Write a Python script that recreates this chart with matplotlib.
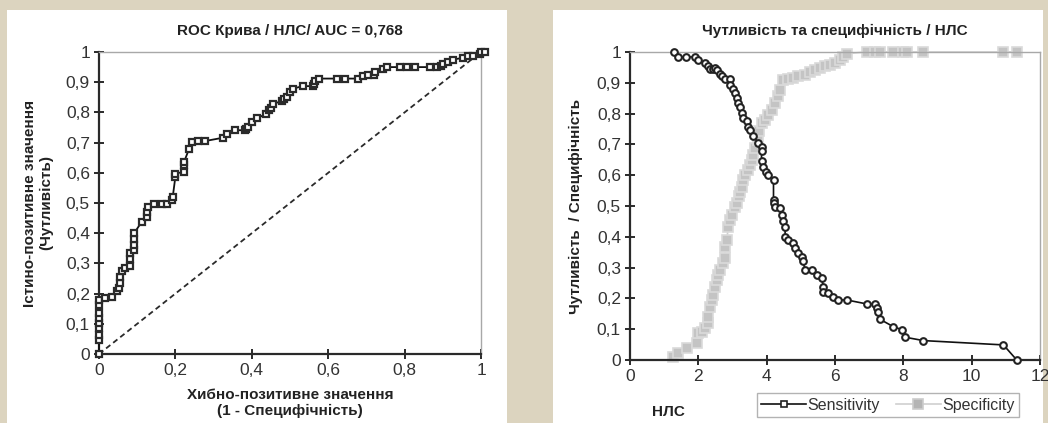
import numpy as np
import matplotlib
matplotlib.use("Agg")
import matplotlib.pyplot as plt
from matplotlib.patches import Rectangle
from matplotlib.lines import Line2D
from matplotlib.ticker import FuncFormatter, MultipleLocator

plt.rcParams['font.family'] = ['Liberation Sans', 'DejaVu Sans']

# ROC curve: false positive rate vs true positive rate
fpr = [0, 0, 0, 0, 0, 0, 0, 0, 0, 0.016, 0.035, 0.046, 0.053, 0.056, 0.056, 0.06, 0.068,
       0.08, 0.08, 0.08, 0.092, 0.092, 0.092, 0.092, 0.112, 0.125, 0.125, 0.127, 0.144,
       0.166, 0.177, 0.19, 0.193, 0.2, 0.2, 0.223, 0.223, 0.223, 0.236, 0.243, 0.258,
       0.277, 0.324, 0.336, 0.356, 0.382, 0.386, 0.391, 0.4, 0.413, 0.436, 0.446, 0.45,
       0.455, 0.478, 0.485, 0.491, 0.5, 0.509, 0.533, 0.561, 0.563, 0.565, 0.577, 0.622,
       0.644, 0.679, 0.69, 0.705, 0.72, 0.723, 0.744, 0.753, 0.788, 0.805, 0.827, 0.866,
       0.884, 0.895, 0.9, 0.913, 0.927, 0.954, 0.967, 0.98, 0.997, 1.0, 1.01]
tpr = [0, 0.047, 0.064, 0.085, 0.102, 0.12, 0.135, 0.163, 0.18, 0.187, 0.19, 0.207, 0.218,
       0.235, 0.255, 0.275, 0.285, 0.29, 0.315, 0.334, 0.345, 0.36, 0.38, 0.4, 0.438,
       0.455, 0.47, 0.488, 0.497, 0.497, 0.497, 0.51, 0.52, 0.587, 0.597, 0.604, 0.625,
       0.637, 0.68, 0.703, 0.705, 0.705, 0.716, 0.73, 0.741, 0.741, 0.745, 0.752, 0.769,
       0.78, 0.794, 0.807, 0.815, 0.827, 0.838, 0.843, 0.851, 0.868, 0.879, 0.887, 0.887,
       0.893, 0.904, 0.912, 0.912, 0.912, 0.912, 0.92, 0.923, 0.925, 0.934, 0.945, 0.95,
       0.95, 0.95, 0.95, 0.95, 0.95, 0.955, 0.961, 0.968, 0.975, 0.981, 0.986, 0.986,
       0.994, 1.0, 1.0]

# Sensitivity vs NLS
sens_x = [1.29, 1.41, 1.64, 1.9, 2.0, 2.2, 2.29, 2.34, 2.42, 2.49, 2.54, 2.63, 2.68, 2.78,
          2.93, 2.93, 3.0, 3.07, 3.12, 3.17, 3.22, 3.27, 3.32, 3.41, 3.46, 3.51, 3.61, 3.76,
          3.85, 3.85, 3.85, 3.9, 3.97, 4.05, 4.2, 4.2, 4.2, 4.24, 4.39, 4.44, 4.49, 4.54,
          4.54, 4.63, 4.78, 4.83, 4.93, 5.02, 5.07, 5.12, 5.32, 5.46, 5.61, 5.66, 5.66, 5.8,
          5.95, 6.1, 6.34, 6.93, 7.17, 7.22, 7.27, 7.32, 7.71, 7.97, 8.05, 8.59, 10.93, 11.32]
sens_y = [1.0, 0.984, 0.984, 0.984, 0.973, 0.964, 0.953, 0.945, 0.945, 0.948, 0.94, 0.93,
          0.921, 0.912, 0.912, 0.894, 0.88, 0.867, 0.85, 0.834, 0.823, 0.802, 0.785, 0.775,
          0.758, 0.748, 0.726, 0.704, 0.693, 0.677, 0.645, 0.628, 0.612, 0.601, 0.585, 0.52,
          0.509, 0.498, 0.493, 0.471, 0.45, 0.433, 0.4, 0.39, 0.379, 0.363, 0.347, 0.336,
          0.32, 0.293, 0.293, 0.276, 0.265, 0.238, 0.222, 0.217, 0.206, 0.195, 0.195, 0.182,
          0.182, 0.168, 0.157, 0.132, 0.108, 0.098, 0.074, 0.063, 0.049, 0.0]

# Specificity vs NLS
spec_x = [1.27, 1.41, 1.66, 1.95, 2.0, 2.1, 2.2, 2.27, 2.29, 2.34, 2.39, 2.42, 2.49, 2.54,
          2.59, 2.63, 2.73, 2.78, 2.78, 2.83, 2.88, 2.93, 2.98, 3.07, 3.12, 3.19, 3.22, 3.27,
          3.32, 3.37, 3.46, 3.51, 3.56, 3.61, 3.66, 3.74, 3.78, 3.85, 3.95, 4.03, 4.15, 4.24,
          4.34, 4.39, 4.49, 4.63, 4.78, 4.93, 5.12, 5.27, 5.41, 5.56, 5.71, 5.85, 6.0, 6.15,
          6.24, 6.34, 6.93, 7.17, 7.32, 7.71, 8.0, 8.1, 8.59, 10.93, 11.32]
spec_y = [0.011, 0.022, 0.038, 0.054, 0.087, 0.092, 0.103, 0.119, 0.141, 0.173, 0.195,
          0.211, 0.238, 0.26, 0.276, 0.293, 0.314, 0.33, 0.368, 0.39, 0.433, 0.455, 0.471,
          0.498, 0.509, 0.531, 0.547, 0.563, 0.585, 0.601, 0.618, 0.634, 0.65, 0.666, 0.688,
          0.715, 0.742, 0.769, 0.78, 0.796, 0.813, 0.834, 0.856, 0.878, 0.91, 0.912, 0.915,
          0.921, 0.926, 0.934, 0.94, 0.948, 0.953, 0.959, 0.964, 0.975, 0.984, 0.995, 1.0,
          1.0, 1.0, 1.0, 1.0, 1.0, 1.0, 1.0, 1.0]

W, H = 1048, 423
fig = plt.figure(figsize=(W / 100, H / 100), dpi=100, facecolor="#dcd4bf")

# white panels behind each chart
fig.add_artist(Rectangle((7 / W, 0), 500 / W, 413 / H, transform=fig.transFigure,
                         facecolor="white", edgecolor="none", zorder=0))
fig.add_artist(Rectangle((553 / W, 0), 490 / W, 413 / H, transform=fig.transFigure,
                         facecolor="white", edgecolor="none", zorder=0))

comma = FuncFormatter(lambda v, p: ("%g" % round(v, 2)).replace(".", ","))
dark = "#2a2a2a"
txt = "#222222"


def style(ax):
    ax.set_facecolor("none")
    for s in ("top", "right"):
        ax.spines[s].set_color("#a8a8a8")
        ax.spines[s].set_linewidth(1.0)
    for s in ("left", "bottom"):
        ax.spines[s].set_color(dark)
        ax.spines[s].set_linewidth(1.6)
    ax.tick_params(direction="inout", length=7, width=1.4, color=dark,
                   labelsize=12.5, labelcolor="#333333", pad=3)
    ax.yaxis.set_major_locator(MultipleLocator(0.1))
    ax.yaxis.set_major_formatter(comma)
    ax.xaxis.set_major_formatter(comma)
    ax.set_ylim(0, 1)


# left: ROC
ax1 = fig.add_axes([99 / W, 1 - 354 / H, 382 / W, 302 / H])
style(ax1)
ax1.set_xlim(0, 1)
ax1.xaxis.set_major_locator(MultipleLocator(0.2))
ax1.plot([0, 1], [0, 1], ls=(0, (3, 2)), color=dark, lw=1.3)
ax1.plot(fpr, tpr, color="#111111", lw=1.3, marker="s", ms=4.8, mfc="white",
         mec="#2a2a2a", mew=1.6, clip_on=False, zorder=3)
ax1.set_title("ROC Крива / НЛС/ AUC = 0,768", fontsize=11, fontweight="bold",
              color=txt, pad=12)
ax1.set_xlabel("Хибно-позитивне значення\n(1 - Специфічність)", fontsize=11,
               fontweight="bold", color=txt, labelpad=7, linespacing=1.2)
ax1.set_ylabel("Істино-позитивне значення\n(Чутливість)", fontsize=11,
               fontweight="bold", color=txt, labelpad=9, linespacing=1.2)

# right: sensitivity and specificity
ax2 = fig.add_axes([630 / W, 1 - 360 / H, 410 / W, 308 / H])
style(ax2)
ax2.set_xlim(0, 12)
ax2.xaxis.set_major_locator(MultipleLocator(2))
ax2.plot(spec_x, spec_y, color="#cfcfcf", lw=1.2, marker="s", ms=7, mfc="#c4c4c4",
         mec="#dadada", mew=1.2, clip_on=False, zorder=2)
ax2.plot(sens_x, sens_y, color="#111111", lw=1.2, marker="o", ms=4.8, mfc="white",
         mec="#222222", mew=1.5, clip_on=False, zorder=3)
ax2.set_title("Чутливість та специфічність / НЛС", fontsize=11, fontweight="bold",
              color=txt, pad=12)
ax2.set_ylabel("Чутливість  / Специфічність", fontsize=11, fontweight="bold",
               color=txt, labelpad=10)
fig.text(668 / W, 1 - 412 / H, "НЛС", fontsize=11, fontweight="bold", color=txt,
         ha="center", va="center")

handles = [Line2D([], [], color="#111111", lw=1.2, marker="s", ms=4.5, mfc="white",
                  mec="#222222", mew=1.2),
           Line2D([], [], color="#cfcfcf", lw=1.2, marker="s", ms=7, mfc="#b4b4b4",
                  mec="#cccccc", mew=1.2)]
leg = fig.legend(handles, ["Sensitivity", "Specificity"], loc="center", ncol=2,
                 bbox_to_anchor=(888 / W, 1 - 405 / H), fontsize=11.5, frameon=True,
                 fancybox=False, edgecolor="#a0a0a0", borderpad=0.3, handlelength=2.8,
                 columnspacing=1.0, handletextpad=0.1)
leg.get_frame().set_linewidth(1.0)
for t in leg.get_texts():
    t.set_color("#333333")

fig.savefig("out.png", dpi=100, facecolor=fig.get_facecolor())
